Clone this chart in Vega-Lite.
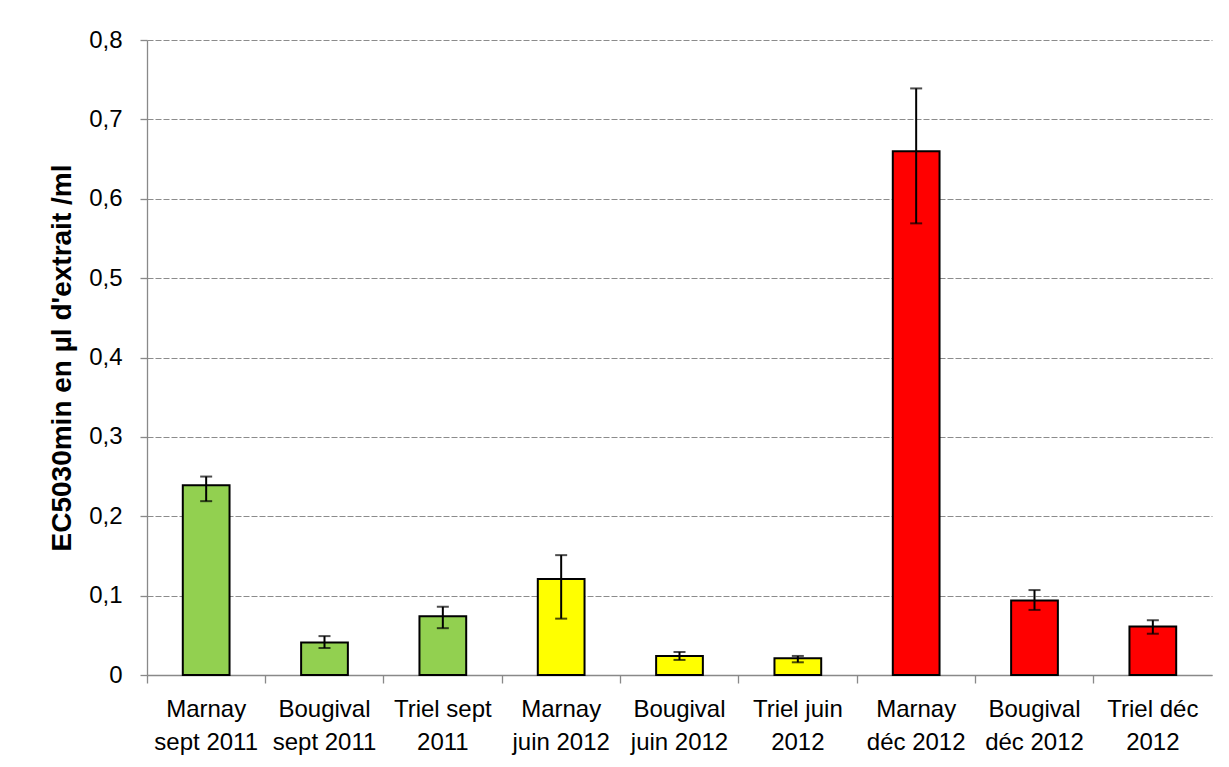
{
  "$schema": "https://vega.github.io/schema/vega-lite/v6.json",
  "width": 1065,
  "height": 635,
  "autosize": "none",
  "padding": {"left": 147, "top": 40, "right": 17, "bottom": 92},
  "background": "white",
  "config": {
    "font": "Liberation Sans",
    "view": {"stroke": null},
    "axis": {"labelFont": "Liberation Sans", "titleFont": "Liberation Sans"}
  },
  "data": {
    "values": [
      {"cat": "Marnay|sept 2011", "campagne": "sept 2011", "val": 0.239, "lo": 0.219, "hi": 0.250},
      {"cat": "Bougival|sept 2011", "campagne": "sept 2011", "val": 0.041, "lo": 0.034, "hi": 0.049},
      {"cat": "Triel sept|2011", "campagne": "sept 2011", "val": 0.074, "lo": 0.059, "hi": 0.086},
      {"cat": "Marnay|juin 2012", "campagne": "juin 2012", "val": 0.121, "lo": 0.071, "hi": 0.151},
      {"cat": "Bougival|juin 2012", "campagne": "juin 2012", "val": 0.024, "lo": 0.019, "hi": 0.029},
      {"cat": "Triel juin|2012", "campagne": "juin 2012", "val": 0.021, "lo": 0.016, "hi": 0.024},
      {"cat": "Marnay|déc 2012", "campagne": "déc 2012", "val": 0.66, "lo": 0.569, "hi": 0.739},
      {"cat": "Bougival|déc 2012", "campagne": "déc 2012", "val": 0.094, "lo": 0.082, "hi": 0.107},
      {"cat": "Triel déc|2012", "campagne": "déc 2012", "val": 0.061, "lo": 0.052, "hi": 0.069}
    ]
  },
  "encoding": {
    "x": {
      "field": "cat",
      "type": "nominal",
      "sort": null,
      "scale": {"paddingInner": 0, "paddingOuter": 0},
      "axis": {
        "title": null,
        "labelAngle": 0,
        "labelExpr": "split(datum.label, '|')",
        "labelFontSize": 24,
        "labelColor": "black",
        "labelLineHeight": 33,
        "labelPadding": 14,
        "labelLimit": 200,
        "bandPosition": 0,
        "tickSize": 8,
        "tickColor": "#898989",
        "tickWidth": 1.3,
        "domainColor": "#898989",
        "domainWidth": 1.3,
        "grid": false
      }
    }
  },
  "layer": [
    {
      "mark": {"type": "bar", "width": {"band": 0.395}, "stroke": "black", "strokeWidth": 2},
      "encoding": {
        "y": {
          "field": "val",
          "type": "quantitative",
          "scale": {"domain": [0, 0.8], "nice": false},
          "axis": {
            "title": "EC5030min en µl d'extrait /ml",
            "titleFontSize": 28,
            "titleFontWeight": "bold",
            "titleColor": "black",
            "titlePadding": 12,
            "values": [0, 0.1, 0.2, 0.3, 0.4, 0.5, 0.6, 0.7, 0.8],
            "labelExpr": "datum.value == 0 ? '0' : replace(format(datum.value, '.1f'), '.', ',')",
            "labelFontSize": 24,
            "labelColor": "black",
            "labelPadding": 18,
            "tickSize": 7,
            "tickColor": "#898989",
            "tickWidth": 1.3,
            "domainColor": "#898989",
            "domainWidth": 1.3,
            "grid": true,
            "gridColor": "#8c8c8c",
            "gridWidth": 1.2,
            "gridDash": [6, 2]
          }
        },
        "color": {
          "field": "campagne",
          "type": "nominal",
          "scale": {"domain": ["sept 2011", "juin 2012", "déc 2012"], "range": ["#92D050", "#FFFF00", "#FF0000"]},
          "legend": null
        }
      }
    },
    {
      "mark": {"type": "rule", "color": "black", "strokeWidth": 2},
      "encoding": {
        "y": {"field": "lo", "type": "quantitative"},
        "y2": {"field": "hi"}
      }
    },
    {
      "mark": {"type": "tick", "color": "black", "size": 12, "thickness": 2, "orient": "horizontal"},
      "encoding": {"y": {"field": "lo", "type": "quantitative"}}
    },
    {
      "mark": {"type": "tick", "color": "black", "size": 12, "thickness": 2, "orient": "horizontal"},
      "encoding": {"y": {"field": "hi", "type": "quantitative"}}
    }
  ]
}
